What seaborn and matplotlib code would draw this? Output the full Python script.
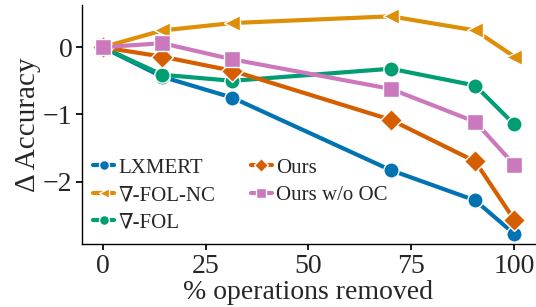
import pandas as pd
import seaborn as sns
import matplotlib.pyplot as plt

# ----------------------------
# Data
# ----------------------------
pct_removed = [0, 14.5, 31.5, 70, 90.5, 100]

models = ["LXMERT", "∇-FOL-NC", "∇-FOL", "Ours", "Ours w/o OC"]
lxmert = [0, -0.44, -0.75, -1.83, -2.28, -2.78]
fol_nc = [0, 0.25, 0.36, 0.46, 0.25, -0.14]
fol = [0, -0.41, -0.50, -0.32, -0.57, -1.15]
ours = [0, -0.14, -0.35, -1.08, -1.70, -2.57]
ours_wo_oc = [0, 0.06, -0.18, -0.62, -1.11, -1.75]

series = [lxmert, fol_nc, fol, ours, ours_wo_oc]
df = pd.DataFrame({
    "x": pct_removed * len(models),
    "y": sum(series, []),
    "model": [m for m in models for _ in pct_removed],
})

# ----------------------------
# Style
# ----------------------------
sns.set_theme(style="ticks")
plt.rcParams["font.family"] = ["Liberation Serif", "DejaVu Serif"]

pal = sns.color_palette("colorblind")
COLORS = {
    "LXMERT": pal[0],
    "∇-FOL-NC": pal[1],
    "∇-FOL": pal[2],
    "Ours": pal[3],
    "Ours w/o OC": pal[4],
}
MARKERS = {
    "LXMERT": "o",
    "∇-FOL-NC": "<",
    "∇-FOL": "o",
    "Ours": "D",
    "Ours w/o OC": "s",
}

fig, ax = plt.subplots(figsize=(5.36, 3.07), dpi=100)
fig.subplots_adjust(left=0.153, right=0.998, bottom=0.205, top=0.984)

sns.lineplot(
    data=df, x="x", y="y", hue="model", style="model",
    hue_order=models, style_order=models,
    palette=COLORS, markers=MARKERS, dashes=False,
    linewidth=3, markersize=11, markeredgecolor="white", markeredgewidth=1,
    ax=ax,
)

ax.set_xlim(-5, 105)
ax.set_ylim(-2.93, 0.63)
ax.set_xticks([0, 25, 50, 75, 100])
ax.set_yticks([-2, -1, 0])
ax.set_yticklabels(["\u22122", "\u22121", "0"])
ax.tick_params(labelsize=20, length=4, color="black", pad=3)
ax.set_xlabel("% operations removed", fontsize=20, labelpad=1)
ax.set_ylabel("Δ Accuracy", fontsize=21, labelpad=1)

for s in ("left", "bottom"):
    ax.spines[s].set_color("black")
    ax.spines[s].set_linewidth(1)
sns.despine(ax=ax)

ax.legend(
    loc="lower left", ncol=2, frameon=False, fontsize=15,
    handlelength=1.0, handletextpad=0.2, columnspacing=1.7,
    labelspacing=0.38, borderaxespad=0.15, markerscale=0.65,
)

plt.savefig("out.png", dpi=100)
